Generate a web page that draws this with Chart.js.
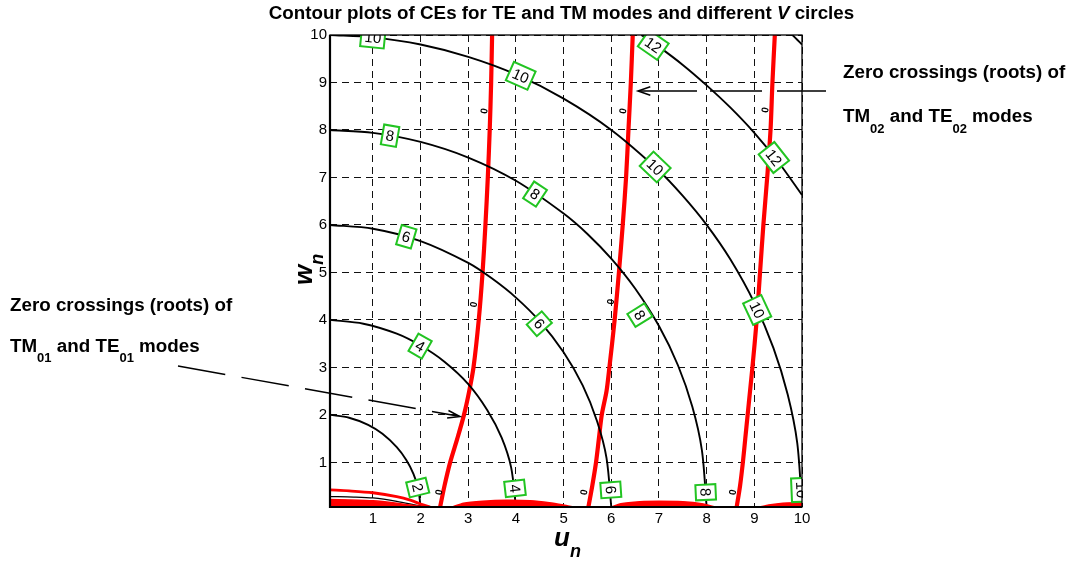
<!DOCTYPE html>
<html>
<head>
<meta charset="utf-8">
<script src="https://cdn.jsdelivr.net/npm/chart.js@4.4.1/dist/chart.umd.min.js"></script>
<style>
  html, body { margin: 0; padding: 0; background: #fff; }
  #wrap { width: 1073px; height: 561px; }
</style>
</head>
<body>
<div id="wrap"><canvas id="myChart" width="1073" height="561"></canvas></div>
<script>
// Contour plot of the TE/TM characteristic equations with V circles

const uTicks = [1, 2, 3, 4, 5, 6, 7, 8, 9, 10];
const wTicks = [1, 2, 3, 4, 5, 6, 7, 8, 9, 10];

// V circles, [u, w]
const circleV2 = [[0.1, 2.0], [0.5, 1.94], [0.9, 1.79], [1.2, 1.6], [1.5, 1.32], [1.7, 1.05], [1.85, 0.76], [1.95, 0.45], [2.0, 0.06]];
const circleV4 = [[0.1, 4.0], [0.8, 3.92], [1.5, 3.71], [2.0, 3.46], [2.5, 3.12], [3.0, 2.65], [3.4, 2.1], [3.7, 1.52], [3.9, 0.89], [4.0, 0.06]];
const circleV6 = [[0.1, 6.0], [1.0, 5.92], [2.0, 5.66], [3.0, 5.2], [3.5, 4.87], [4.0, 4.47], [4.5, 3.97], [5.0, 3.32], [5.4, 2.62], [5.7, 1.87], [5.9, 1.09], [6.0, 0.06]];
const circleV8 = [[0.1, 8.0], [1.0, 7.94], [2.0, 7.75], [3.0, 7.42], [4.0, 6.93], [5.0, 6.24], [5.5, 5.81], [6.0, 5.29], [6.5, 4.66], [7.0, 3.87], [7.4, 3.04], [7.7, 2.17], [7.9, 1.26], [8.0, 0.06]];
const circleV10 = [[0.1, 10.0], [1.0, 9.95], [2.0, 9.8], [3.0, 9.54], [4.0, 9.17], [5.0, 8.66], [6.0, 8.0], [7.0, 7.14], [7.5, 6.61], [8.0, 6.0], [8.5, 5.27], [9.0, 4.36], [9.4, 3.41], [9.7, 2.43], [9.9, 1.41], [10.0, 0.06]];
const circleV12 = [[6.63, 10.0], [7.0, 9.75], [7.5, 9.37], [8.0, 8.94], [8.5, 8.47], [9.0, 7.94], [9.5, 7.33], [10.0, 6.63]];
const circleV14 = [[9.8, 10.0], [9.9, 9.9], [10.0, 9.8]];

// zero crossings (roots) of the CE
const rootTE01 = [[2.41, 0.06], [2.5, 0.5], [2.62, 1.0], [2.77, 1.5], [2.91, 2.0], [3.02, 2.5], [3.11, 3.0], [3.22, 4.0], [3.3, 5.0], [3.36, 6.0], [3.41, 7.0], [3.45, 8.0], [3.48, 9.0], [3.5, 10.0]];
const rootTE02 = [[5.52, 0.06], [5.6, 0.5], [5.68, 1.0], [5.74, 1.5], [5.8, 2.0], [5.9, 2.5], [5.96, 3.0], [6.07, 4.0], [6.16, 5.0], [6.24, 6.0], [6.31, 7.0], [6.36, 8.0], [6.41, 9.0], [6.45, 10.0]];
const rootTE03 = [[8.63, 0.06], [8.7, 0.5], [8.76, 1.0], [8.81, 1.5], [8.86, 2.0], [8.91, 2.5], [8.96, 3.0], [9.05, 4.0], [9.12, 5.0], [9.19, 6.0], [9.27, 7.0], [9.34, 8.0], [9.38, 9.0], [9.43, 10.0]];

// red blobs along w = 0
const bandATop = [[0.1, 0.42], [0.5, 0.4], [1.0, 0.36], [1.5, 0.28], [1.8, 0.2], [2.0, 0.12], [2.2, 0.06]];
const bandALine = [[0.1, 0.28], [0.6, 0.27], [1.0, 0.25], [1.5, 0.18], [1.9, 0.1], [2.1, 0.06]];
const bandAFill = [[0.1, 0.22], [0.5, 0.21], [1.0, 0.19], [1.5, 0.14], [1.8, 0.1], [2.1, 0.06]];
const bandB = [[2.66, 0.06], [2.9, 0.14], [3.3, 0.18], [3.8, 0.2], [4.3, 0.19], [4.7, 0.15], [5.0, 0.1], [5.2, 0.06]];
const bandC = [[6.0, 0.06], [6.2, 0.13], [6.6, 0.17], [7.0, 0.18], [7.5, 0.17], [7.9, 0.13], [8.18, 0.06]];
const bandCLine = [[6.33, 0.09], [7.0, 0.1], [7.7, 0.09]];
const bandD = [[9.12, 0.06], [9.3, 0.1], [9.6, 0.14], [9.9, 0.15], [10.0, 0.15]];

// contour labels [u, w, text]
const contourLabels = [
  [1.0, 9.95, "10"], [1.36, 7.88, "8"], [1.7, 5.75, "6"], [1.99, 3.45, "4"], [1.94, 0.47, "2"],
  [4.1, 9.14, "10"], [4.4, 6.65, "8"], [4.49, 3.92, "6"], [3.98, 0.45, "4"],
  [6.88, 9.79, "12"], [6.92, 7.22, "10"], [6.6, 4.1, "8"], [5.99, 0.42, "6"],
  [9.41, 7.42, "12"], [9.06, 4.21, "10"], [7.98, 0.37, "8"], [9.99, 0.42, "10"]
];
const zeroLabels = [[3.41, 8.4], [3.19, 4.32], [2.46, 0.37], [6.32, 8.4], [6.06, 4.38], [5.5, 0.37], [9.3, 8.42], [9.03, 4.3], [8.62, 0.37]];

const FONT = "'Liberation Sans', Arial, sans-serif";

function pts(arr) {
  return arr.map(p => ({ x: p[0], y: p[1] }));
}

function line(arr, color, width, extra) {
  return Object.assign({
    data: pts(arr),
    showLine: true,
    borderColor: color,
    borderWidth: width,
    pointRadius: 0,
    fill: false,
    tension: 0.3
  }, extra || {});
}

function band(arr) {
  return line(arr, "#ff0000", 1.5, { fill: "start", backgroundColor: "#ff0000", tension: 0.2 });
}

function drawRuns(ctx, x, y, runs) {
  let cx = x;
  for (const r of runs) {
    ctx.font = r[1];
    ctx.fillText(r[0], cx, y + (r[2] || 0));
    cx += ctx.measureText(r[0]).width;
  }
}

function runsWidth(ctx, runs) {
  let w = 0;
  for (const r of runs) {
    ctx.font = r[1];
    w += ctx.measureText(r[0]).width;
  }
  return w;
}

function arrowHead(ctx, tx, ty, angle, len, spread) {
  ctx.beginPath();
  ctx.moveTo(tx - len * Math.cos(angle - spread), ty - len * Math.sin(angle - spread));
  ctx.lineTo(tx, ty);
  ctx.lineTo(tx - len * Math.cos(angle + spread), ty - len * Math.sin(angle + spread));
  ctx.stroke();
}

const extras = {
  id: "extras",
  afterDatasetsDraw(chart) {
    const ctx = chart.ctx;
    const a = chart.chartArea;
    const xs = chart.scales.x, ys = chart.scales.y;
    const sx = xs.getPixelForValue(1) - xs.getPixelForValue(0);
    const sy = ys.getPixelForValue(0) - ys.getPixelForValue(1);
    ctx.save();
    ctx.beginPath();
    ctx.rect(a.left, a.top, a.right - a.left, a.bottom - a.top);
    ctx.clip();

    // small "0" labels on the root curves
    ctx.fillStyle = "#000";
    ctx.font = "bold 10px " + FONT;
    ctx.textAlign = "center";
    ctx.textBaseline = "middle";
    for (const z of zeroLabels) {
      ctx.save();
      ctx.translate(xs.getPixelForValue(z[0]) - 3, ys.getPixelForValue(z[1]));
      ctx.rotate(-Math.PI / 2 + 0.15);
      ctx.fillText("0", 0, 0);
      ctx.restore();
    }

    // boxed contour labels
    ctx.font = "15px " + FONT;
    for (const l of contourLabels) {
      const px = xs.getPixelForValue(l[0]);
      const py = ys.getPixelForValue(l[1]);
      const ang = Math.atan2(l[0] * sy, l[1] * sx);
      const tw = ctx.measureText(l[2]).width;
      const bw = tw + 7, bh = 20;
      ctx.save();
      ctx.translate(px, py);
      ctx.rotate(ang);
      ctx.fillStyle = "#fff";
      ctx.fillRect(-bw / 2, -bh / 2, bw, bh);
      ctx.strokeStyle = "#22c422";
      ctx.lineWidth = 2;
      ctx.strokeRect(-bw / 2, -bh / 2, bw, bh);
      ctx.fillStyle = "#000";
      ctx.fillText(l[2], 0, 1);
      ctx.restore();
    }
    ctx.restore();
  },
  afterDraw(chart) {
    const ctx = chart.ctx;
    const a = chart.chartArea;
    ctx.save();

    // axes box
    ctx.strokeStyle = "#000";
    ctx.lineWidth = 1.3;
    ctx.strokeRect(a.left, a.top, a.right - a.left, a.bottom - a.top);
    ctx.lineWidth = 2.2;
    ctx.beginPath();
    ctx.moveTo(a.left, a.top);
    ctx.lineTo(a.left, a.bottom);
    ctx.lineTo(a.right, a.bottom);
    ctx.stroke();

    ctx.fillStyle = "#000";
    ctx.textAlign = "left";
    ctx.textBaseline = "alphabetic";

    // title
    const B = "bold 18.8px " + FONT;
    const BI = "italic bold 18.8px " + FONT;
    const titleRuns = [["Contour plots of CEs for TE and TM modes and different ", B], ["V", BI], [" circles", B]];
    const tw = runsWidth(ctx, titleRuns);
    drawRuns(ctx, 561.5 - tw / 2, 18.5, titleRuns);

    // annotations
    const S = "bold 13px " + FONT;
    drawRuns(ctx, 10, 310.5, [["Zero crossings (roots) of", B]]);
    drawRuns(ctx, 10, 351.5, [["TM", B], ["01", S, 10], [" and TE", B], ["01", S, 10], [" modes", B]]);
    drawRuns(ctx, 843, 78, [["Zero crossings (roots) of", B]]);
    drawRuns(ctx, 843, 121.5, [["TM", B], ["02", S, 11], [" and TE", B], ["02", S, 11], [" modes", B]]);

    // axis titles
    drawRuns(ctx, 554, 546, [["u", "italic bold 26px " + FONT], ["n", "italic bold 18px " + FONT, 11]]);
    ctx.save();
    ctx.translate(312, 285);
    ctx.rotate(-Math.PI / 2);
    drawRuns(ctx, 0, 0, [["w", "italic bold 26px " + FONT], ["n", "italic bold 18px " + FONT, 11]]);
    ctx.restore();

    // right arrow
    ctx.strokeStyle = "#000";
    ctx.lineWidth = 1.5;
    ctx.beginPath();
    ctx.moveTo(826, 91); ctx.lineTo(777, 91);
    ctx.moveTo(762, 91); ctx.lineTo(710, 91);
    ctx.moveTo(697, 91); ctx.lineTo(639, 91);
    ctx.stroke();
    arrowHead(ctx, 638, 91, Math.PI, 13, 0.33);

    // left dashed arrow
    ctx.setLineDash([48, 16.5]);
    ctx.beginPath();
    ctx.moveTo(178, 366);
    ctx.lineTo(459, 416.3);
    ctx.stroke();
    ctx.setLineDash([]);
    arrowHead(ctx, 460, 416.5, Math.atan2(50.5, 282), 13, 0.3);
    ctx.restore();
  }
};

const rootCore = { borderDash: [2, 6] };

new Chart(document.getElementById("myChart"), {
  type: "scatter",
  data: {
    datasets: [
      band(bandAFill),
      line(bandATop, "#ff0000", 2.8),
      line(bandALine, "#000", 1.3),
      band(bandB),
      band(bandC),
      line(bandCLine, "#000", 1.3),
      band(bandD),
      line(circleV2, "#000", 1.9),
      line(circleV4, "#000", 1.9),
      line(circleV6, "#000", 1.9),
      line(circleV8, "#000", 1.9),
      line(circleV10, "#000", 1.9),
      line(circleV12, "#000", 1.9),
      line(circleV14, "#000", 1.9),
      line(rootTE01, "#ff0000", 4.2),
      line(rootTE02, "#ff0000", 4.2),
      line(rootTE03, "#ff0000", 4.2),
      line(rootTE01, "#000", 1, rootCore),
      line(rootTE02, "#000", 1, rootCore),
      line(rootTE03, "#000", 1, rootCore)
    ]
  },
  options: {
    responsive: false,
    animation: false,
    events: [],
    layout: { padding: { left: 0, top: 35, right: 271, bottom: 0 } },
    plugins: {
      legend: { display: false },
      tooltip: { enabled: false },
      title: { display: false }
    },
    scales: {
      x: {
        type: "linear",
        min: 0.1,
        max: 10,
        afterBuildTicks: s => { s.ticks = uTicks.map(v => ({ value: v })); },
        afterFit: s => { s.height = 54; },
        ticks: { color: "#000", font: { family: FONT, size: 15 }, padding: 3, maxRotation: 0 },
        grid: { color: "#111", lineWidth: 1, drawTicks: false },
        border: { display: false, dash: [7, 5] }
      },
      y: {
        type: "linear",
        min: 0.06,
        max: 10,
        afterBuildTicks: s => { s.ticks = wTicks.map(v => ({ value: v })); },
        afterFit: s => { s.width = 330; },
        ticks: { color: "#000", font: { family: FONT, size: 15 }, padding: 3 },
        grid: { color: "#111", lineWidth: 1, drawTicks: false },
        border: { display: false, dash: [7, 5] }
      }
    }
  },
  plugins: [extras]
});
</script>
</body>
</html>
